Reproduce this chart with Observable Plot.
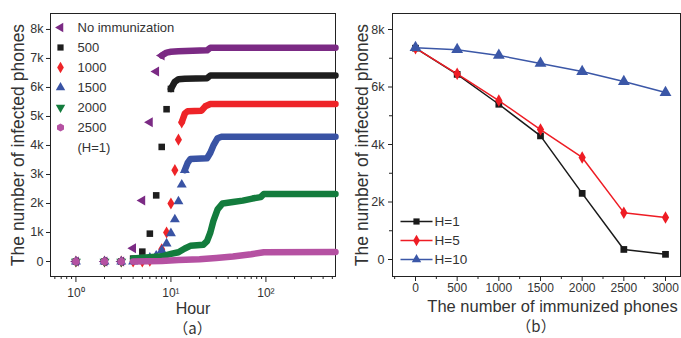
<!DOCTYPE html>
<html><head><meta charset="utf-8">
<script src="https://cdn.jsdelivr.net/npm/d3@7"></script>
<script src="https://cdn.jsdelivr.net/npm/@observablehq/plot@0.6"></script>
<style>
body{margin:0;background:#fff;font-family:"Liberation Sans",Arial,sans-serif;}
#wrap{display:flex;width:681px;height:338px;overflow:hidden;}
.panel{position:relative;height:338px;}
.cap{position:absolute;left:0;text-align:center;font-family:"Noto Sans CJK SC","Liberation Sans",sans-serif;font-size:15px;color:#333;line-height:20px;}
</style></head><body>
<div id="wrap">
  <div class="panel" id="pa" style="width:340px"><div class="cap" style="top:318px;width:385px;">（a）</div></div>
  <div class="panel" id="pb" style="width:341px"><div class="cap" style="top:316px;width:392px;">（b）</div></div>
</div>
<script>
// ---------- Panel (a) data ----------
const hourTicks = [1, 10, 100];
const hourTickLabels = ["10⁰", "10¹", "10²"];
const hourMinorTicks = [0.6,0.7,0.8,0.9,2,3,4,5,6,7,8,9,20,30,40,50,60,70,80,90,200,300,400,500];
const infTicksA = [0,1000,2000,3000,4000,5000,6000,7000,8000];
const infTickLabelsA = ["0","1k","2k","3k","4k","5k","6k","7k","8k"];

const legendA = ["No immunization","500","1000","1500","2000","2500"];
const colorsA = ["#7b2a84","#1e1e1e","#ee2428","#3953a4","#137c3d","#b551a2"];
const symbolsA = ["triangle","square","diamond","triangle","triangle","hexagon"];
const rotatesA = [-90,0,0,0,180,0];

// sparse early points [hour, infected phones]
const earlyNone = [[1,0],[2,0],[3,0],[4,460],[5,2100],[6,4800],[7,6550],[8,7100]];
const early500  = [[1,0],[2,0],[3,0],[4,100],[5,340],[6,960],[7,2280],[8,3950],[9,5250],[10,5950]];
const early1000 = [[1,0],[2,0],[3,0],[4,0],[5,0],[6,30],[7,150],[8,420],[9,1000],[10,2000],[11,3150],[12,4200],[13,4800]];
const early1500 = [[1,0],[2,0],[3,0],[4,0],[5,30],[6,130],[7,200],[8,380],[9,620],[10,970],[11,1450],[12,2070],[13,2650],[14,3150]];
const early2000 = [[1,0],[2,0],[3,0]];
const early2500 = [[1,0],[2,0],[3,0]];
// dense plateaus [hour, infected phones]
const tailNone = [[8,7100],[9,7200],[10,7230],[12,7250],[24,7280],[26,7370],[540,7370]];
const tail500  = [[10,5950],[11,6200],[12,6280],[14,6300],[24,6320],[26,6410],[540,6410]];
const tail1000 = [[13,4800],[14,5100],[15,5180],[21,5200],[23,5350],[26,5430],[540,5430]];
const tail1500 = [[14,3150],[15,3400],[16,3530],[24,3560],[26,3750],[28,4000],[31,4250],[34,4300],[540,4300]];
const tail2000 = [[4,100],[8,180],[10,260],[12,320],[14,450],[16,540],[22,580],[24,700],[26,1000],[28,1400],[31,1800],[35,2000],[45,2050],[57,2100],[72,2170],[88,2220],[95,2330],[540,2330]];
const tail2500 = [[4,0],[8,20],[12,50],[20,80],[30,120],[45,170],[70,250],[95,320],[540,330]];

const earliesA = [earlyNone, early500, early1000, early1500, early2000, early2500];
const tailsA = [tailNone, tail500, tail1000, tail1500, tail2000, tail2500];

// ---------- Panel (b) data ----------
const immunized = [0,500,1000,1500,2000,2500,3000];
const h1  = [7350,6440,5400,4300,2300,350,180];
const h5  = [7350,6460,5530,4520,3550,1630,1460];
const h10 = [7370,7300,7100,6820,6540,6190,5810];
const legendB = ["H=1","H=5","H=10"];
const colorsB = ["#1a1a1a","#ee1c24","#3b57a7"];
const symbolsB = ["square","diamond","triangle"];
const xTicksB = [0,500,1000,1500,2000,2500,3000];
const xTickLabelsB = ["0","500","1000","1500","2000","2500","3000"];
const xMinorB = [-250,250,750,1250,1750,2250,2750];
const yTicksB = [0,2000,4000,6000,8000];
const yTickLabelsB = ["0","2k","4k","6k","8k"];
const yMinorB = [1000,3000,5000,7000];

const font = "'Liberation Sans', Arial, sans-serif";
const ink = "#333";

// ---------- Panel (a) ----------
const marksA = [
  Plot.frame({stroke:"#222"}),
  Plot.axisX(hourTicks, {tickSize:6, tickPadding:6, fontSize:12, fill:ink, stroke:"#222",
    tickFormat: d => hourTickLabels[hourTicks.indexOf(d)], label:null}),
  Plot.axisX(hourMinorTicks, {tickSize:3, tickFormat: () => "", stroke:"#222", label:null}),
  Plot.axisY(infTicksA, {tickSize:4, tickPadding:3, fontSize:12.5, fill:ink, stroke:"#222",
    tickFormat: d => infTickLabelsA[infTicksA.indexOf(d)], label:null}),
];
for (let i = 0; i < legendA.length; i++) {
  marksA.push(Plot.line(tailsA[i], {x:d=>d[0], y:d=>d[1], stroke:colorsA[i], strokeWidth:6.5, strokeLinejoin:"round"}));
  marksA.push(Plot.dot(earliesA[i], {x:d=>d[0], y:d=>d[1], symbol:symbolsA[i], fill:colorsA[i], r:3.7, rotate:rotatesA[i]}));
  marksA.push(Plot.dot([legendA[i]], {frameAnchor:"top-left", dx:10, dy:14+20*i, symbol:symbolsA[i], fill:colorsA[i], r:3.5, rotate:rotatesA[i]}));
  marksA.push(Plot.text([legendA[i]], {frameAnchor:"top-left", dx:27, dy:14+20*i, textAnchor:"start", lineAnchor:"middle", fontSize:13, fill:ink}));
}
marksA.push(Plot.text(["(H=1)"], {frameAnchor:"top-left", dx:27, dy:134, textAnchor:"start", lineAnchor:"middle", fontSize:13, fill:ink}));
marksA.push(Plot.text(["The number of infected phones"], {frameAnchor:"left", dx:-32, rotate:-90, textAnchor:"middle", lineAnchor:"middle", fontSize:17.5, fill:ink}));
marksA.push(Plot.text(["Hour"], {frameAnchor:"bottom", dy:32, textAnchor:"middle", lineAnchor:"middle", fontSize:16, fill:ink}));

const plotA = Plot.plot({
  width:340, height:316, marginLeft:50, marginRight:5, marginTop:13, marginBottom:40,
  style:{fontFamily:font, fontSize:"12px", color:ink, background:"white", overflow:"visible"},
  x:{type:"log", domain:[0.54, 540]},
  y:{domain:[-517, 8550]},
  marks: marksA
});
document.getElementById("pa").prepend(plotA);

// ---------- Panel (b) ----------
const lineSym = {draw(ctx){ ctx.moveTo(-16,0); ctx.lineTo(16,0); }};
const rowsB = immunized.map((n, j) => ({n, h1:h1[j], h5:h5[j], h10:h10[j]}));
const keysB = ["h1","h5","h10"];
const marksB = [
  Plot.frame({stroke:"#222"}),
  Plot.axisX(xTicksB, {tickSize:5, tickPadding:2, fontSize:12, fill:ink, stroke:"#222",
    tickFormat: d => xTickLabelsB[xTicksB.indexOf(d)], label:null}),
  Plot.axisX(xMinorB, {tickSize:3, tickFormat: () => "", stroke:"#222", label:null}),
  Plot.axisY(yTicksB, {tickSize:4, tickPadding:4, fontSize:12.5, fill:ink, stroke:"#222",
    tickFormat: d => yTickLabelsB[yTicksB.indexOf(d)], label:null}),
  Plot.axisY(yMinorB, {tickSize:3, tickFormat: () => "", stroke:"#222", label:null}),
];
for (let i = 0; i < 3; i++) {
  const k = keysB[i];
  marksB.push(Plot.line(rowsB, {x:"n", y:k, stroke:colorsB[i], strokeWidth:1.5}));
  marksB.push(Plot.dot(rowsB, {x:"n", y:k, symbol:symbolsB[i], fill:colorsB[i], r: i===2 ? 4.4 : 3.8}));
  marksB.push(Plot.dot([legendB[i]], {frameAnchor:"top-left", dx:24, dy:208+19*i, symbol:lineSym, stroke:colorsB[i], strokeWidth:1.5, fill:"none"}));
  marksB.push(Plot.dot([legendB[i]], {frameAnchor:"top-left", dx:24, dy:208+19*i, symbol:symbolsB[i], fill:colorsB[i], r:3.5}));
  marksB.push(Plot.text([legendB[i]], {frameAnchor:"top-left", dx:42, dy:208+19*i, textAnchor:"start", lineAnchor:"middle", fontSize:13.5, fill:ink}));
}
marksB.push(Plot.text(["The number of infected phones"], {frameAnchor:"left", dx:-30, rotate:-90, textAnchor:"middle", lineAnchor:"middle", fontSize:17.5, fill:ink}));
marksB.push(Plot.text(["The number of immunized phones"], {frameAnchor:"bottom", dx:16, dy:30, textAnchor:"middle", lineAnchor:"middle", fontSize:16.5, fill:ink}));

const plotB = Plot.plot({
  width:341, height:316, marginLeft:52, marginRight:1, marginTop:13, marginBottom:40,
  style:{fontFamily:font, fontSize:"12px", color:ink, background:"white", overflow:"visible"},
  x:{domain:[-276, 3180]},
  y:{domain:[-591, 8557]},
  marks: marksB
});
document.getElementById("pb").prepend(plotB);
</script>
</body></html>
